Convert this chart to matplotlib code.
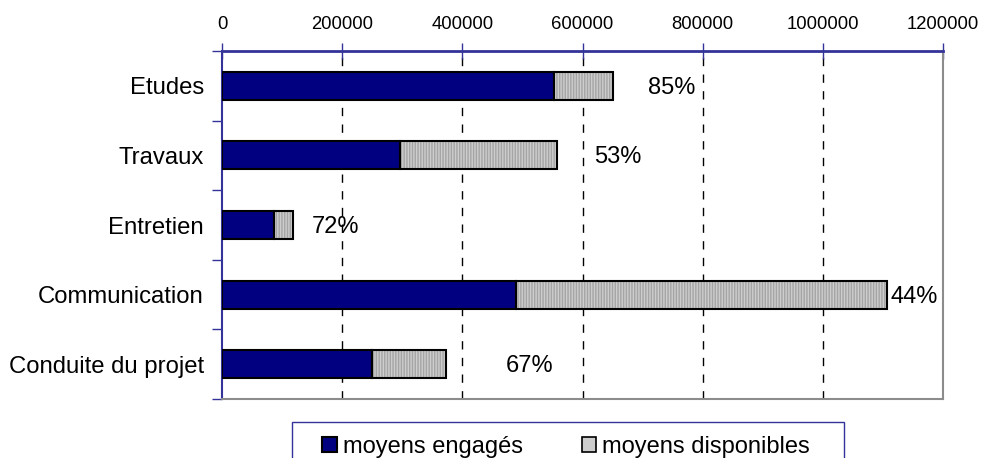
import matplotlib.pyplot as plt
from matplotlib.patches import Patch, Rectangle
import numpy as np

plt.rcParams['font.family'] = ['Liberation Sans', 'DejaVu Sans']

categories = ['Etudes', 'Travaux', 'Entretien', 'Communication', 'Conduite du projet']
engages = [552600, 296300, 86000, 490000, 249700]
disponibles = [98200, 260700, 32700, 617000, 123900]
pct_labels = ['85%', '53%', '72%', '44%', '67%']
# x position (data units) of the left edge of each percentage label
label_x = [709000, 619000, 149000, 1112000, 473000]

xticks = [0, 200000, 400000, 600000, 800000, 1000000, 1200000]

navy = '#000080'
gray_face = '#cdcdcd'
spine_blue = '#333399'

fig = plt.figure(figsize=(9.83, 4.58), dpi=100)
fig.set_facecolor('w')
ax = fig.add_axes([222/983, 1-399/458, 721/983, 348/458])

y = np.arange(len(categories))
h = 0.4
ax.barh(y, engages, height=h, color=navy, edgecolor='black', linewidth=1.5, zorder=3)
ax.barh(y, disponibles, left=engages, height=h, color=gray_face,
        edgecolor='#a5a5a5', hatch='||||||', linewidth=0, zorder=3)
ax.barh(y, disponibles, left=engages, height=h, color='none',
        edgecolor='black', linewidth=1.5, zorder=4)

for yi, lab, lx in zip(y, pct_labels, label_x):
    ax.text(lx, yi + 0.03, lab, ha='left', va='center', fontsize=17, zorder=5)

ax.set_xlim(0, 1200000)
ax.set_ylim(len(categories) - 0.5, -0.5)

ax.xaxis.tick_top()
ax.set_xticks(xticks)
ax.set_xticklabels([str(v) for v in xticks], fontsize=13.3)
ax.tick_params(axis='x', direction='inout', length=12, width=1, color=spine_blue, pad=7)

ax.set_yticks(y)
ax.set_yticklabels(categories, fontsize=17.2)
ax.set_yticks(np.arange(len(categories) + 1) - 0.5, minor=True)
ax.tick_params(axis='y', which='major', length=0, pad=13)
ax.tick_params(axis='y', which='minor', direction='out', length=7, width=1, color=spine_blue)

for xv in xticks[1:-1]:
    ax.axvline(xv, color='black', linewidth=1, dashes=(6, 6), zorder=1)

ax.spines['top'].set_color(spine_blue)
ax.spines['top'].set_linewidth(2)
ax.spines['left'].set_color(spine_blue)
ax.spines['left'].set_linewidth(1.5)
ax.spines['right'].set_color('#8c8c8c')
ax.spines['right'].set_linewidth(1.5)
ax.spines['bottom'].set_color('#8c8c8c')
ax.spines['bottom'].set_linewidth(1.5)

# legend box (runs off the bottom of the figure)
box = Rectangle((291.5/983, -0.1), (843.5-291.5)/983, 0.1 + 1 - 421.7/458,
                transform=fig.transFigure, facecolor='white', edgecolor=spine_blue,
                linewidth=1, zorder=0)
fig.patches.append(box)

handles = [Patch(facecolor=navy, edgecolor='black', linewidth=1.5),
           Patch(facecolor=gray_face, edgecolor='black', linewidth=1.2)]
fig.legend(handles, ['moyens engagés', 'moyens disponibles'], loc='center left',
           bbox_to_anchor=(322/983, 1-447/458), ncol=2, frameon=False, fontsize=17,
           handlelength=0.62, handleheight=0.62, handletextpad=0.25,
           columnspacing=2.5, borderpad=0, borderaxespad=0)

fig.savefig('out.png', dpi=100)
